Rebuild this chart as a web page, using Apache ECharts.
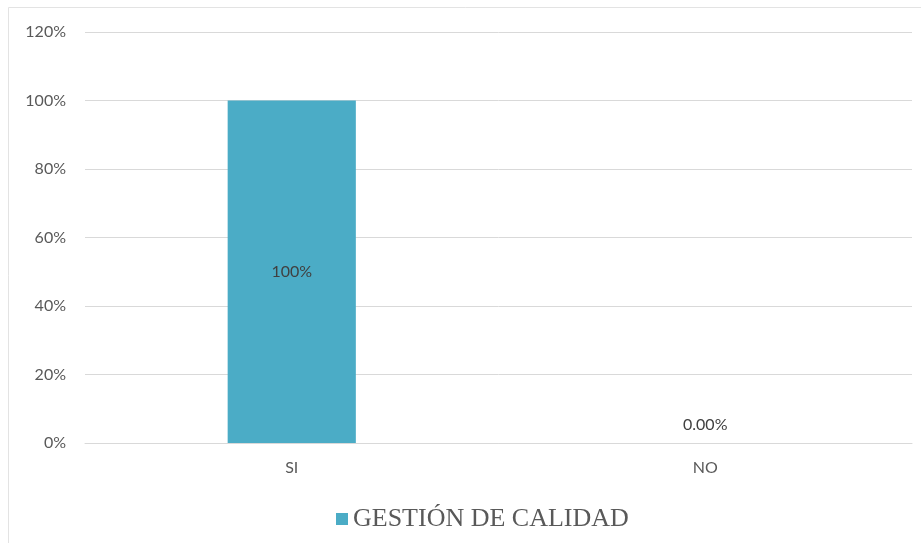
<!DOCTYPE html>
<html>
<head>
<meta charset="utf-8">
<script src="https://cdn.jsdelivr.net/npm/echarts@6/dist/echarts.min.js"></script>
<style>
  html, body { margin: 0; padding: 0; background: #fff; }
  #main { width: 921px; height: 543px; }
</style>
</head>
<body>
<div id="main"></div>
<script>
// datos del gráfico
var categorias = ['SI', 'NO'];
var valores = [100, 0];
var etiquetas = ['100%', '0.00%'];
var serieNombre = 'GESTIÓN DE CALIDAD';

var chart = echarts.init(document.getElementById('main'));

var option = {
  backgroundColor: '#ffffff',
  animation: false,
  // marco del área del gráfico
  graphic: [{
    type: 'rect',
    shape: { x: 8.5, y: 7.5, width: 940, height: 560 },
    style: { fill: 'none', stroke: '#e3e3e3', lineWidth: 1 },
    silent: true
  }],
  grid: { left: 85, right: 9, top: 32, bottom: 100 },
  legend: {
    data: [serieNombre],
    bottom: 6,
    left: 331,
    itemWidth: 12,
    itemHeight: 12,
    itemGap: 6,
    icon: 'rect',
    textStyle: {
      fontFamily: 'Liberation Serif',
      fontSize: 26,
      color: '#595959'
    }
  },
  xAxis: {
    type: 'category',
    data: categorias,
    axisLine: { lineStyle: { color: '#d9d9d9', width: 1 } },
    axisTick: { show: false },
    axisLabel: {
      color: '#595959',
      fontFamily: 'Lato',
      fontSize: 16,
      margin: 17
    }
  },
  yAxis: {
    type: 'value',
    min: 0,
    max: 120,
    interval: 20,
    axisLine: { show: false },
    axisTick: { show: false },
    splitLine: { lineStyle: { color: '#d9d9d9', width: 1 } },
    axisLabel: {
      formatter: '{value}%',
      color: '#595959',
      fontFamily: 'Lato',
      fontSize: 16,
      margin: 19
    }
  },
  series: [{
    name: serieNombre,
    type: 'bar',
    barWidth: '31%',
    itemStyle: { color: '#4BACC6' },
    data: valores.map(function (v, i) {
      return {
        value: v,
        label: {
          show: true,
          position: v > 0 ? 'inside' : 'top',
          distance: 10,
          formatter: etiquetas[i],
          color: '#404040',
          fontFamily: 'Lato',
          fontSize: 16
        }
      };
    })
  }]
};

chart.setOption(option);
</script>
</body>
</html>
